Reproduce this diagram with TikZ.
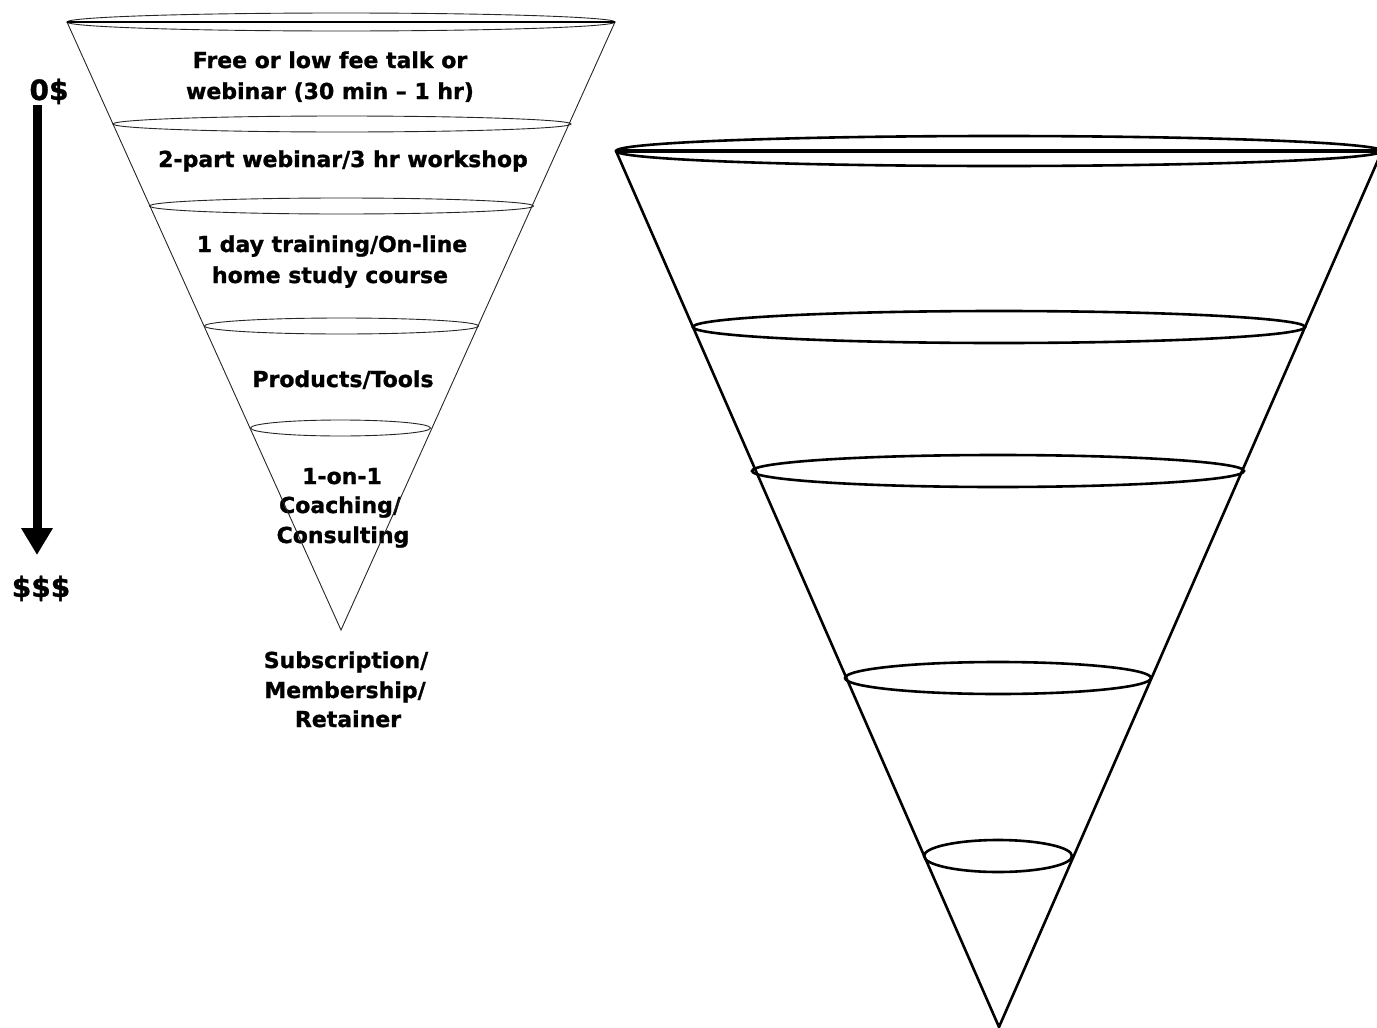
\documentclass[tikz,border=0pt]{standalone}
\usepackage{fontspec}
\setmainfont{DejaVu Sans}
\newfontfamily\heavyfont{DejaVu Sans Bold}[FakeBold=1.2,Ligatures=TeX]
\usetikzlibrary{arrows.meta}
\tikzset{
  lbl/.style={font=\heavyfont\fontsize{22}{30}\selectfont, inner sep=0pt, anchor=base},
  price/.style={font=\heavyfont\fontsize{28}{30}\selectfont, inner sep=0pt, anchor=base},
  thinl/.style={line width=0.9pt, draw=black!85},
  thickl/.style={line width=2.6pt, draw=black},
}
\begin{document}
\begin{tikzpicture}[x=1pt,y=-1pt]
\useasboundingbox (0,0) rectangle (1377,1028);
% ---------- left funnel ----------
\coordinate (LTl) at (67,22);
\coordinate (LTr) at (615,22);
\coordinate (LA) at (341,630);
% texts
\node[lbl] (t1a) at (330,68) {Free or low fee talk or};
\node[lbl] (t1b) at (330,99) {webinar (30 min – 1 hr)};
\node[lbl] (t2) at (343,167) {2-part webinar/3 hr workshop};
\node[lbl] (t3a) at (332,252) {1 day training/On-line};
\node[lbl] (t3b) at (330,283) {home study course};
\node[lbl] (t4) at (343,387) {Products/Tools};
\node[lbl] (t5a) at (342,484) {1-on-1};
\node[lbl] (t5b) at (340,513) {Coaching/};
\node[lbl] (t5c) at (343,543) {Consulting};
\node[lbl] (t6a) at (346,668) {Subscription/};
\node[lbl] (t6b) at (345,698) {Membership/};
\node[lbl] (t6c) at (348,727) {Retainer};
% cone
\draw[thinl] (LTl) -- (LA) -- (LTr);
\draw[thinl] (341,22) ellipse [x radius=274pt, y radius=9pt];
\draw[line width=1.8pt] (LTl) -- (LTr);
\draw[thinl] (342,124) ellipse [x radius=229pt, y radius=8pt];
\draw[thinl] (341.5,206) ellipse [x radius=192pt, y radius=8pt];
\draw[thinl] (341.5,326) ellipse [x radius=137pt, y radius=8pt];
\draw[thinl] (340.5,428) ellipse [x radius=90pt, y radius=8pt];
% price arrow
\node[price] (p0) at (49,100) {0\$};
\node[price] (p1) at (41,597) {\$\$\$};
\coordinate (a0) at (37,105);
\coordinate (a1) at (37,555);
\draw[line width=9pt, -{Triangle[width=30pt,length=27pt]}] (a0) -- (a1);
% ---------- right funnel ----------
\coordinate (RTl) at (616,151);
\coordinate (RTr) at (1382,151);
\coordinate (RA) at (999,1027);
\draw[thickl] (RTl) -- (RA) -- (RTr);
\draw[thickl] (999,151) ellipse [x radius=383pt, y radius=15pt];
\draw[line width=4pt] (RTl) -- (RTr);
\draw[thickl] (999,327) ellipse [x radius=306pt, y radius=16pt];
\draw[thickl] (998,471) ellipse [x radius=246pt, y radius=16pt];
\draw[thickl] (998,678) ellipse [x radius=153pt, y radius=16pt];
\draw[thickl] (998,856) ellipse [x radius=74pt, y radius=16pt];
\end{tikzpicture}
\end{document}
